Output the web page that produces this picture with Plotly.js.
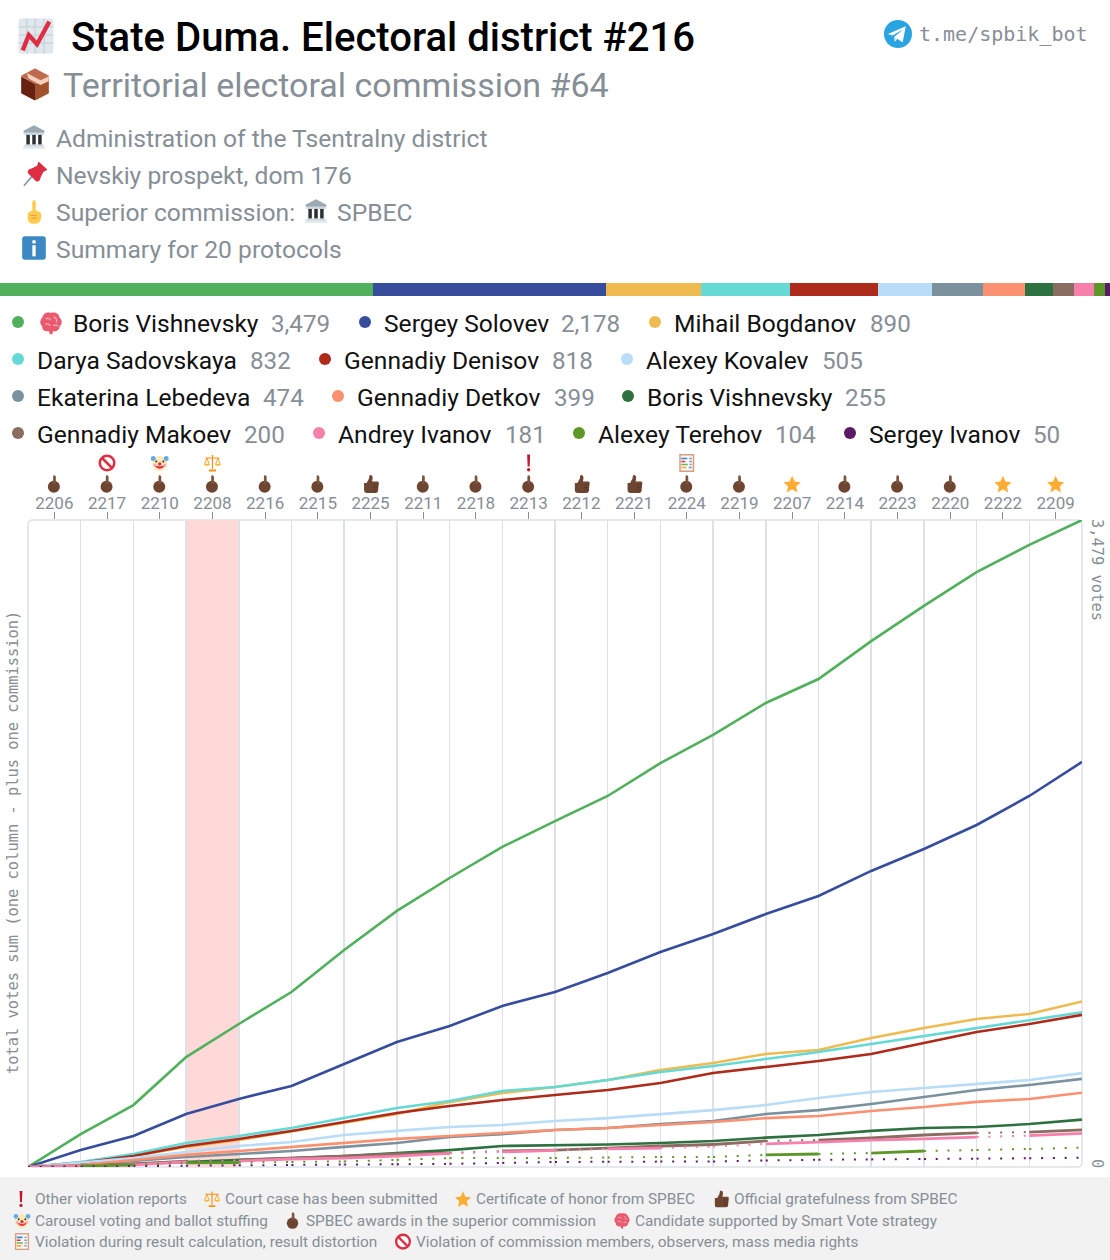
<!DOCTYPE html>
<html><head><meta charset="utf-8">
<script src="https://cdn.plot.ly/plotly-3.0.1.min.js"></script>
<style>html,body{margin:0;padding:0;background:#fff;overflow:hidden}#c{width:1110px;height:1260px}</style>
</head><body><div id="c"></div>
<script>
const W=1110,H=1260,px=v=>v/W,py=v=>1-v/H;
const PL=28,PR=1082,PT=520,PB=1167;

/* ---------- data ---------- */
const stations=["2206","2217","2210","2208","2216","2215","2225","2211","2218","2213","2212","2221","2224","2219","2207","2214","2223","2220","2222","2209"];
const stationIcon=["point","point","point","point","point","point","thumb","point","point","point","thumb","thumb","point","point","star","point","point","point","star","star"];
const stationFlag=["","ban","clown","scales","","","","","","excl","","","abacus","","","","","","",""];
const highlightColumn=3;

const names=["Boris Vishnevsky","Sergey Solovev","Mihail Bogdanov","Darya Sadovskaya","Gennadiy Denisov","Alexey Kovalev","Ekaterina Lebedeva","Gennadiy Detkov","Boris Vishnevsky","Gennadiy Makoev","Andrey Ivanov","Alexey Terehov","Sergey Ivanov"];
const colors=["#50b05c","#364c9c","#efbb50","#65d9d6","#ae2a1a","#b9dcf8","#7c919e","#fb9170","#2e7140","#8b6c60","#f67fac","#5f9628","#5a1a64"];

const vishnevsky=[0,177,333,591,769,941,1167,1377,1554,1721,1860,1995,2172,2323,2495,2624,2828,3017,3199,3345,3479];
const solovev=[0,91,167,285,366,436,554,672,758,866,941,1043,1156,1253,1360,1457,1592,1710,1839,1995,2178];
const bogdanov=[0,25,60,108,145,190,238,285,349,398,430,468,522,559,608,629,694,747,796,823,890];
const sadovskaya=[0,27,70,129,167,210,263,317,355,409,430,468,511,543,581,618,661,704,747,790,832];
const denisov=[0,22,59,113,151,194,242,290,328,360,387,414,452,505,538,570,608,667,726,769,818];
const kovalev=[0,22,48,81,113,134,172,194,215,226,247,263,285,306,333,371,403,425,446,468,505];
const lebedeva=[0,11,32,54,70,86,108,129,161,177,199,210,231,247,285,306,339,376,414,441,474];
const detkov=[0,11,38,65,86,108,129,151,167,183,199,210,226,242,263,274,301,323,350,366,399];
const vishnevsky2=[0,5,16,27,38,48,59,75,91,113,116,121,129,140,158,172,194,210,215,231,255];
const makoev=[0,5,16,32,38,48,59,70,75,86,91,102,113,121,140,145,156,172,183,188,200];
const ivanovA=[0,5,11,27,32,43,48,59,73,81,89,97,102,110,124,134,145,151,161,169,181];
const terehov=[0,5,11,22,24,27,30,38,48,49,49,51,54,54,65,70,75,86,91,97,104];
const ivanovS=[0,2,4,7,9,11,13,15,17,22,27,28,29,30,35,39,41,43,45,47,50];
const series=[vishnevsky,solovev,bogdanov,sadovskaya,denisov,kovalev,lebedeva,detkov,vishnevsky2,makoev,ivanovA,terehov,ivanovS];

/* columns where a candidate's line is dotted rather than solid */
const dottedMakoev=[3,8,14,18];
const dottedIvanovA=[3,8,10,12,13,18];
const dottedTerehov=[0,2,4,5,6,7,8,9,10,11,12,13,15,17,18,19];
const dottedIvanovS=[0,1,2,3,4,5,6,7,8,9,10,11,12,13,14,15,16,17,18,19];
const dotted={9:dottedMakoev,10:dottedIvanovA,11:dottedTerehov,12:dottedIvanovS};

/* legend rows: [series index, dot x, name x, value x, row] */
const legendRows=[
 [0,18,72,270,0],[1,365,383,560,0],[2,655,673,869,0],
 [3,18,36,249,1],[4,325,343,551,1],[5,627,645,821,1],
 [6,18,36,262,2],[7,338,356,553,2],[8,628,646,844,2],
 [9,18,36,243,3],[10,319,337,504,3],[11,579,597,774,3],[12,850,868,1032,3]];
const legendY=[324,360.5,397.5,434.5];

const footnotes=[
 ["excl",21,34,1199,"Other violation reports"],["scales",212,224,1199,"Court case has been submitted"],
 ["star",463,475,1199,"Certificate of honor from SPBEC"],["thumb",721,733,1199,"Official gratefulness from SPBEC"],
 ["clown",22,34,1220.6,"Carousel voting and ballot stuffing"],["point",293,305,1220.6,"SPBEC awards in the superior commission"],
 ["brain",622,634,1220.6,"Candidate supported by Smart Vote strategy"],
 ["abacus",22,34,1241.6,"Violation during result calculation, result distortion"],["ban",403,415,1241.6,"Violation of commission members, observers, mass media rights"]];

/* ---------- icons ---------- */
const art={
 chart:'<rect x="1" y="1" width="34" height="34" rx="3" fill="#e1e8ed"/><path d="M1 9h34M1 17h34M1 25h34M9 1v34M17 1v34M26 1v34" stroke="#ccd6dd" stroke-width="1.6"/><path d="M5 32 L11 17 L19 26 L31 4" fill="none" stroke="#dd2e44" stroke-width="4.2" stroke-linejoin="miter"/>',
 box:'<path d="M18 1 L33 9 V28 L18 36 L3 28 V9Z" fill="#d99e82"/><path d="M3 10 L18 18 V36 L3 28Z" fill="#662113"/><path d="M18 18 L33 10 V28 L18 36Z" fill="#a0522d"/><path d="M3 9 L18 1 L33 9 L18 18Z" fill="#c1694f"/><path d="M9 6 L24 14 L33 10 V15 L24 19 L11 12Z" fill="#f2d2bd"/>',
 bank:'<path d="M18 1 L33 9 V12 H3 V9Z" fill="#99aab5"/><rect x="4" y="12" width="28" height="3" fill="#ccd6dd"/><rect x="7" y="15" width="5" height="14" fill="#292f33"/><rect x="15.5" y="15" width="5" height="14" fill="#292f33"/><rect x="24" y="15" width="5" height="14" fill="#292f33"/><rect x="4" y="29" width="28" height="3" fill="#ccd6dd"/><rect x="2" y="32" width="32" height="3" fill="#e1e8ed"/>',
 pin:'<path d="M2 35 L15 20" stroke="#8899a6" stroke-width="2.4"/><path d="M23 0 L36 12 L30 15 L26 23 C25 30 20 30 18 27 L9 18 C6 15 8 11 13 10 L21 6Z" fill="#dd2e44"/>',
 up:'<path d="M18 1 C19.5 1 20.5 2 20.5 4 V16 L26 18 C29 19 29 23 28 28 C27 33 23 35 18 35 C12 35 9 32 9 27 V21 C9 19 11 17 15.5 16.5 V4 C15.5 2 16.5 1 18 1Z" fill="#ffcc4d"/><path d="M13 23h9M14 27h8" stroke="#ef9645" stroke-width="1.4"/>',
 info:'<rect x="1" y="1" width="34" height="34" rx="4" fill="#3b88c3"/><circle cx="18" cy="9" r="2.7" fill="#fff"/><rect x="15.6" y="14" width="4.8" height="16" fill="#fff"/>',
 point:'<circle cx="17" cy="23.5" r="12" fill="#6e4531"/><path d="M16 1 C18.5 0 21 1.5 21 4.5 V18 H15.5 V5Z" fill="#7c533e"/>',
 thumb:'<path d="M5 16 H10 L15 7 C15 2 16 0 18 0 C21 0 23 4 22 8 L21 13 H32 C35 13 35 17 34 20 L33 32 C32 35 30 36 28 36 H11 C7 36 5 34 5 30Z" fill="#6e4531"/><path d="M23 20h11M23 25h10M23 30h9" stroke="#4b2e1f" stroke-width="1"/>',
 star:'<path d="M18 1.5 L23 13 L35 14.3 L26 22.8 L28.6 35 L18 28.7 L7.4 35 L10 22.8 L1 14.3 L13 13Z" fill="#ffac33"/>',
 ban:'<circle cx="18" cy="18" r="14.5" fill="#fff" stroke="#dd2e44" stroke-width="5"/><path d="M8 8 L28 28" stroke="#dd2e44" stroke-width="5"/>',
 clown:'<circle cx="18" cy="19" r="15" fill="#ffe8b6"/><circle cx="5" cy="9" r="5" fill="#5dadec"/><circle cx="31" cy="9" r="5" fill="#5dadec"/><circle cx="11" cy="15" r="2" fill="#292f33"/><circle cx="25" cy="15" r="2" fill="#292f33"/><circle cx="18" cy="20" r="3.4" fill="#dd2e44"/><path d="M9 24 Q18 33 27 24 Q18 28 9 24Z" fill="#dd2e44" stroke="#dd2e44" stroke-width="2"/><circle cx="8" cy="22" r="3" fill="#f4abba"/><circle cx="28" cy="22" r="3" fill="#f4abba"/>',
 scales:'<path d="M18 2 V30 M4 8 H32" stroke="#f4900c" stroke-width="2.4"/><path d="M11 33 H25" stroke="#f4900c" stroke-width="4"/><path d="M7 8 L2 21 H12Z M29 8 L24 21 H34Z" fill="#fff3d6" stroke="#f4900c" stroke-width="1.6"/><path d="M1 21 Q7 28 13 21Z M23 21 Q29 28 35 21Z" fill="#ffcc4d"/>',
 excl:'<path d="M15 1 H21 L20 25 H16Z" fill="#be1931"/><circle cx="18" cy="31.5" r="3.4" fill="#be1931"/>',
 abacus:'<rect x="3" y="0" width="30" height="36" fill="#d99e82"/><rect x="6" y="3" width="24" height="30" fill="#f5f8fa"/><path d="M7 9h12" stroke="#3b88c3" stroke-width="3.4"/><path d="M7 15h8" stroke="#dd2e44" stroke-width="3.4"/><path d="M7 21h13" stroke="#77b255" stroke-width="3.4"/><path d="M7 27h10" stroke="#ffac33" stroke-width="3.4"/><path d="M23 9h5M23 15h5M24 21h4M22 27h6" stroke="#8899a6" stroke-width="3"/>',
 brain:'<path d="M18 3 C24 1 30 4 31 10 C35 13 35 20 31 23 C31 29 25 32 21 30 L20 35 C17 36 15 33 15 30 C9 32 4 28 5 23 C1 20 1 13 5 10 C6 4 12 1 18 3Z" fill="#ea596e"/><path d="M10 12 Q15 9 17 14 M22 9 Q28 11 26 17 M9 20 Q14 18 17 22 M21 22 Q26 20 29 23" fill="none" stroke="#f4abba" stroke-width="2"/>',
 tg:'<circle cx="18" cy="18" r="18" fill="#2aa4e0"/><path d="M5 18 L28 8 L24 29 L17 24 L14 28 L13 22 L25 12 L11 20Z" fill="#fff"/><path d="M13 22 L14 28 L17 24Z" fill="#c8e3f4"/>'
};
const uri=k=>'data:image/svg+xml;base64,'+btoa('<svg xmlns="http://www.w3.org/2000/svg" width="108" height="108" viewBox="0 0 36 36">'+art[k]+'</svg>');
const images=[];
const icon=(k,x,y,s)=>images.push({source:uri(k),xref:'paper',yref:'paper',x:px(x),y:py(y),sizex:s/W,sizey:s/H,xanchor:'center',yanchor:'middle',sizing:'contain',layer:'above'});

/* ---------- text ---------- */
const anns=[];
const GREY='#868e96';
const txt=(t,x,y,size,color,o={})=>anns.push({text:t,xref:'paper',yref:'paper',x:px(x),y:py(y),xanchor:'left',yanchor:'middle',showarrow:false,borderpad:0,
  font:{family:o.family||'Roboto, sans-serif',size:size,color:color,weight:o.weight||400}});
const MONO='"DejaVu Sans Mono", monospace';

icon('chart',36,36,37); txt('State Duma. Electoral district #216',70,37,40.1,'#000',{weight:500});
icon('box',35,84,33);   txt('Territorial electoral commission #64',62,85.5,34,GREY);
icon('bank',34,137,25); txt('Administration of the Tsentralny district',55,138.5,24.65,GREY);
icon('pin',35,174,25);  txt('Nevskiy prospekt, dom 176',55,175.5,24.65,GREY);
icon('up',34,212,25);   txt('Superior commission:',55,212.5,24.65,GREY);
icon('bank',316,211,25);txt('SPBEC',336,212.5,24.65,GREY);
icon('info',34,248,25); txt('Summary for 20 protocols',55,249.5,24.65,GREY);
icon('tg',898,34,28);   txt('t.me/spbik_bot',918,34,20,GREY,{family:MONO});

const shapes=[];
const fmt=n=>n.toLocaleString('en-US');
legendRows.forEach(([i,dx,nx,vx,r])=>{
  const y=legendY[r], s=series[i];
  shapes.push({type:'circle',xref:'paper',yref:'paper',x0:px(dx-6),x1:px(dx+6),y0:py(Math.round(y)-8),y1:py(Math.round(y)+4),fillcolor:colors[i],line:{width:0},layer:'above'});
  txt(names[i],nx,y,24.6,'#111',{});
  txt(fmt(s[s.length-1]),vx,y,24.2,GREY,{});
});
icon('brain',51,323,24);

stations.forEach((_,i)=>{
  const cx=PL+(PR-PL)*(i+.5)/stations.length;
  icon(stationIcon[i],cx,484,18);
  if(stationFlag[i]) icon(stationFlag[i],cx,463,18);
});

/* footer */
shapes.push({type:'rect',xref:'paper',yref:'paper',x0:0,x1:1,y0:py(1260),y1:py(1177),fillcolor:'#f2f2f2',line:{width:0},layer:'below'});
footnotes.forEach(([k,ix,tx,y,t])=>{icon(k,ix,y,17);txt(t,tx,y,15.35,GREY,{});});

/* axis captions */
const MS=15.4;
anns.push({text:'3,479 votes',xref:'paper',yref:'paper',x:px(1097),y:py(570),textangle:90,showarrow:false,xanchor:'center',yanchor:'middle',font:{family:MONO,size:MS,color:GREY}});
anns.push({text:'0',xref:'paper',yref:'paper',x:px(1097),y:py(1163),textangle:90,showarrow:false,xanchor:'center',yanchor:'middle',font:{family:MONO,size:MS,color:GREY}});
anns.push({text:'total votes sum (one column - plus one commission)',xref:'paper',yref:'paper',x:px(13),y:py(843),textangle:-90,showarrow:false,xanchor:'center',yanchor:'middle',font:{family:MONO,size:MS,color:GREY}});

/* plot decoration */
shapes.push({type:'rect',xref:'x',yref:'y',x0:highlightColumn,x1:highlightColumn+1,y0:0,y1:3479,fillcolor:'#ffd8d8',line:{width:0},layer:'below'});
const r=5;
shapes.push({type:'path',xref:'paper',yref:'paper',layer:'below',line:{color:'#dee2e6',width:1.5},
 path:`M${px(PL+r)} ${py(PT)} L${px(PR-r)} ${py(PT)} Q${px(PR)} ${py(PT)} ${px(PR)} ${py(PT+r)} L${px(PR)} ${py(PB-r)} Q${px(PR)} ${py(PB)} ${px(PR-r)} ${py(PB)} L${px(PL+r)} ${py(PB)} Q${px(PL)} ${py(PB)} ${px(PL)} ${py(PB-r)} L${px(PL)} ${py(PT+r)} Q${px(PL)} ${py(PT)} ${px(PL+r)} ${py(PT)} Z`});

/* ---------- traces ---------- */
const traces=[];
series.forEach((s,i)=>{
  const dots=dotted[i];
  if(!dots){traces.push({type:'scatter',mode:'lines',x:s.map((_,k)=>k),y:s,line:{color:colors[i],width:2.6,shape:'linear'},hoverinfo:'skip',showlegend:false,name:names[i]});return;}
  for(let k=0;k<s.length-1;k++){
    const d=dots.includes(k);
    traces.push({type:'scatter',mode:'lines',x:[k,k+1],y:[s[k],s[k+1]],
      line:{color:colors[i],width:d?2:2.8,dash:d?'2px,9.8px':'solid'},hoverinfo:'skip',showlegend:false,name:names[i]});
  }
});
series.forEach((s,i)=>traces.push({type:'bar',orientation:'h',x:[s[s.length-1]],y:['share'],xaxis:'x2',yaxis:'y2',marker:{color:colors[i],line:{width:0}},hoverinfo:'skip',showlegend:false}));
const total=series.reduce((a,s)=>a+s[s.length-1],0);

const layout={
 width:W,height:H,margin:{l:0,r:0,t:0,b:0,pad:0},paper_bgcolor:'#fff',plot_bgcolor:'rgba(0,0,0,0)',showlegend:false,
 barmode:'stack',bargap:0,
 xaxis:{domain:[px(PL),px(PR)],range:[0,20],side:'top',anchor:'y',tickmode:'array',tickvals:stations.map((_,i)=>i+.5),ticktext:stations,
   ticks:'outside',ticklen:7,tickwidth:1,tickcolor:GREY,ticklabelstandoff:-4,tickfont:{family:'Roboto, sans-serif',size:17,color:GREY},showgrid:false,zeroline:false,showline:false,fixedrange:true,
   minor:{tickmode:'array',tickvals:stations.map((_,i)=>i).concat([20]),showgrid:true,gridcolor:'#dee2e6',gridwidth:1.5,ticks:''}},
 yaxis:{domain:[py(PB),py(PT)],range:[0,3479],showticklabels:false,showgrid:false,zeroline:false,showline:false,ticks:'',fixedrange:true},
 xaxis2:{domain:[0,1],range:[0,total],visible:false,anchor:'y2',fixedrange:true},
 yaxis2:{domain:[py(296),py(283)],visible:false,anchor:'x2',fixedrange:true},
 annotations:anns,shapes:shapes,images:images
};
Plotly.newPlot('c',traces,layout,{staticPlot:true,displayModeBar:false});
</script></body></html>
